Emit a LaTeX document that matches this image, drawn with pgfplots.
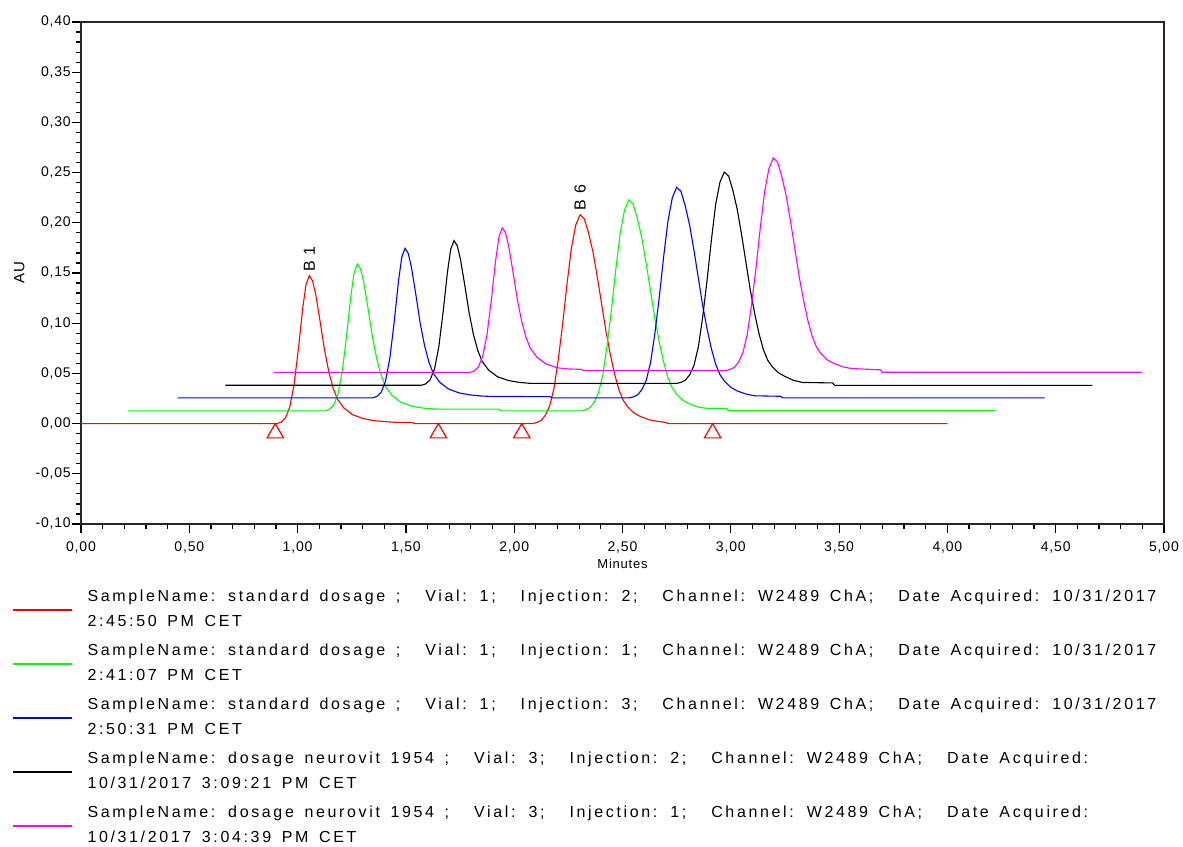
\documentclass[border=0pt]{standalone}
\usepackage{fontspec}
\setmainfont{Liberation Sans}
\newfontfamily\tickfam[LetterSpace=6]{Liberation Sans}
\newfontfamily\legfam[LetterSpace=16.5,WordSpace=1.5]{Liberation Sans}
\newfontfamily\annfam[LetterSpace=10]{Liberation Sans}
\usepackage{pgfplots}
\pgfplotsset{compat=1.18}
\newcommand{\legfont}{\legfam\fontsize{16}{25}\selectfont}
\newcommand{\tickfont}{\tickfam\fontsize{14}{16}\selectfont}
\newcommand{\gap}{\hspace*{25pt}}
\newcommand{\ts}{\rule{0pt}{14pt}}
\newcommand{\bs}{\rule[-3.5pt]{0pt}{3.5pt}}
\definecolor{cgreen}{RGB}{0,255,0}
\definecolor{cmag}{RGB}{255,0,255}
\begin{document}
\begin{tikzpicture}
\useasboundingbox (0,0) rectangle (1183pt,846pt);
\begin{axis}[
  at={(81pt,322pt)}, anchor=south west,
  width=1083pt, height=502pt, scale only axis,
  xmin=0, xmax=5, ymin=-0.1, ymax=0.4,
  xtick={0,0.5,1,1.5,2,2.5,3,3.5,4,4.5,5},
  ytick={-0.1,-0.05,0,0.05,0.1,0.15,0.2,0.25,0.3,0.35,0.4},
  minor x tick num=4, minor y tick num=4,
  xtick pos=bottom, ytick pos=left, tick align=outside,
  major tick length=9pt, minor tick length=5pt,
  tick style={black, line width=1.2pt},
  axis line style={black!85, line width=1.5pt},
  /pgf/number format/assume math mode=true,
  /pgf/number format/use comma,
  /pgf/number format/fixed,
  /pgf/number format/fixed zerofill,
  /pgf/number format/precision=2,
  ticklabel style={font=\tickfont},
  yticklabel style={inner sep=1pt},
  xticklabel style={inner sep=2pt, yshift=-7pt},
  xlabel={Minutes},
  xlabel style={at={(axis description cs:0.5,-0.070)}, anchor=north, inner sep=0pt, font=\tickfam\fontsize{13}{15}\selectfont},
  ylabel={AU},
  ylabel style={at={(axis description cs:-0.057,0.5)}, anchor=center, inner sep=0pt, font=\tickfam\fontsize{15}{17}\selectfont},
  legend image code/.code={\draw[#1, line width=1.5pt] (0pt,-2.5pt) -- (59pt,-2.5pt);},
  legend style={at={(-0.0637,-0.126)}, anchor=north west, draw=none, fill=none,
    inner sep=0pt, outer sep=0pt, row sep=13.5pt, column sep=15pt,
    font=\legfont, nodes={inner sep=0pt}, cells={anchor=west, align=left}},
]
\addplot[red, line width=1.1pt] coordinates {
(0,0) (0.904,0) (0.924,0.0015) (0.944,0.0056) (0.964,0.0165) (0.984,0.0392) (1.004,0.0750) (1.024,0.1156) (1.039,0.1386) (1.054,0.1474) (1.069,0.1422) (1.084,0.1282) (1.104,0.1017) (1.124,0.0737) (1.144,0.0516) (1.164,0.0354) (1.184,0.0243) (1.214,0.0155) (1.254,0.0088) (1.304,0.0049) (1.354,0.0029) (1.404,0.0019) (1.45,0.0013) (1.53,0.0010) (1.54,0) (2.084,0) (2.104,0.0010) (2.124,0.0031) (2.144,0.0083) (2.164,0.0177) (2.184,0.0354) (2.204,0.0645) (2.224,0.0998) (2.244,0.1394) (2.264,0.1747) (2.284,0.1976) (2.304,0.2080) (2.324,0.2038) (2.344,0.1893) (2.364,0.1706) (2.384,0.1456) (2.404,0.1186) (2.424,0.0915) (2.444,0.0686) (2.464,0.0489) (2.484,0.0333) (2.504,0.0229) (2.524,0.0166) (2.554,0.0104) (2.584,0.0069) (2.624,0.0037) (2.664,0.0021) (2.70,0.0012) (2.71,0) (4.0,0)};
\addlegendentry{\ts SampleName: standard dosage ;\gap Vial: 1;\gap Injection: 2;\gap Channel: W2489 ChA;\gap Date Acquired: 10/31/2017\\2:45:50 PM CET\bs}
\addplot[cgreen, line width=1.1pt] coordinates {
(0.217,0.0126) (1.126,0.0126) (1.146,0.0141) (1.166,0.0182) (1.186,0.0290) (1.206,0.0515) (1.226,0.0871) (1.246,0.1274) (1.261,0.1502) (1.276,0.1590) (1.291,0.1539) (1.306,0.1400) (1.326,0.1136) (1.346,0.0858) (1.366,0.0638) (1.386,0.0477) (1.406,0.0368) (1.436,0.0280) (1.476,0.0214) (1.526,0.0174) (1.576,0.0155) (1.626,0.0145) (1.93,0.0144) (1.94,0.0126) (2.309,0.0126) (2.329,0.0137) (2.349,0.0158) (2.369,0.0210) (2.389,0.0305) (2.409,0.0483) (2.429,0.0778) (2.449,0.1135) (2.469,0.1534) (2.489,0.1892) (2.509,0.2123) (2.529,0.2228) (2.549,0.2186) (2.569,0.2039) (2.589,0.1850) (2.609,0.1597) (2.629,0.1324) (2.649,0.1051) (2.669,0.0820) (2.689,0.0620) (2.709,0.0462) (2.729,0.0357) (2.749,0.0294) (2.779,0.0231) (2.809,0.0195) (2.849,0.0164) (2.889,0.0152) (2.98,0.0152) (2.99,0.0128) (4.22,0.0128)};
\addlegendentry{\ts SampleName: standard dosage ;\gap Vial: 1;\gap Injection: 1;\gap Channel: W2489 ChA;\gap Date Acquired: 10/31/2017\\2:41:07 PM CET\bs}
\addplot[blue, line width=1.1pt] coordinates {
(0.446,0.0256) (1.346,0.0256) (1.366,0.0271) (1.386,0.0313) (1.406,0.0423) (1.426,0.0652) (1.446,0.1014) (1.466,0.1424) (1.481,0.1657) (1.496,0.1746) (1.511,0.1694) (1.526,0.1552) (1.546,0.1284) (1.566,0.1001) (1.586,0.0778) (1.606,0.0614) (1.626,0.0502) (1.656,0.0412) (1.696,0.0345) (1.746,0.0305) (1.796,0.0286) (1.846,0.0275) (1.896,0.0270) (2.165,0.0269) (2.175,0.0256) (2.53,0.0256) (2.55,0.0266) (2.57,0.0287) (2.59,0.0340) (2.61,0.0434) (2.63,0.0613) (2.65,0.0906) (2.67,0.1263) (2.69,0.1662) (2.71,0.2018) (2.73,0.2249) (2.75,0.2354) (2.77,0.2312) (2.79,0.2165) (2.81,0.1976) (2.83,0.1725) (2.85,0.1452) (2.87,0.1179) (2.89,0.0948) (2.91,0.0749) (2.93,0.0592) (2.95,0.0487) (2.97,0.0424) (3.00,0.0361) (3.03,0.0325) (3.07,0.0294) (3.11,0.0277) (3.23,0.0272) (3.24,0.0256) (4.449,0.0256)};
\addlegendentry{\ts SampleName: standard dosage ;\gap Vial: 1;\gap Injection: 3;\gap Channel: W2489 ChA;\gap Date Acquired: 10/31/2017\\2:50:31 PM CET\bs}
\addplot[black, line width=1.1pt] coordinates {
(0.666,0.0382) (1.572,0.0382) (1.592,0.0396) (1.612,0.0437) (1.632,0.0543) (1.652,0.0765) (1.672,0.1115) (1.692,0.1512) (1.707,0.1737) (1.722,0.1823) (1.737,0.1773) (1.752,0.1636) (1.772,0.1376) (1.792,0.1103) (1.812,0.0886) (1.832,0.0728) (1.852,0.0620) (1.882,0.0533) (1.922,0.0468) (1.972,0.0430) (2.022,0.0411) (2.072,0.0401) (2.75,0.0400) (2.77,0.0411) (2.79,0.0432) (2.81,0.0485) (2.83,0.0580) (2.85,0.0761) (2.87,0.1058) (2.89,0.1418) (2.91,0.1821) (2.93,0.2182) (2.95,0.2405) (2.97,0.2505) (2.99,0.2465) (3.01,0.2320) (3.03,0.2130) (3.05,0.1880) (3.07,0.1605) (3.09,0.1330) (3.11,0.1100) (3.13,0.0898) (3.15,0.0739) (3.17,0.0633) (3.19,0.0570) (3.22,0.0506) (3.25,0.0470) (3.29,0.0430) (3.33,0.0410) (3.47,0.0405) (3.48,0.0380) (4.669,0.0380)};
\addlegendentry{\ts SampleName: dosage neurovit 1954 ;\gap Vial: 3;\gap Injection: 2;\gap Channel: W2489 ChA;\gap Date Acquired:\\10/31/2017 3:09:21 PM CET\bs}
\addplot[cmag, line width=1.1pt] coordinates {
(0.891,0.0510) (1.795,0.0510) (1.815,0.0524) (1.835,0.0565) (1.855,0.0671) (1.875,0.0893) (1.895,0.1242) (1.915,0.1638) (1.930,0.1863) (1.945,0.1949) (1.960,0.1899) (1.975,0.1762) (1.995,0.1503) (2.015,0.1230) (2.035,0.1014) (2.055,0.0855) (2.075,0.0747) (2.105,0.0661) (2.145,0.0596) (2.195,0.0557) (2.245,0.0545) (2.31,0.0540) (2.32,0.0528) (2.976,0.0528) (2.996,0.0539) (3.016,0.0560) (3.036,0.0613) (3.056,0.0708) (3.076,0.0888) (3.096,0.1185) (3.116,0.1545) (3.136,0.1947) (3.156,0.2307) (3.176,0.2540) (3.196,0.2646) (3.216,0.2604) (3.236,0.2455) (3.256,0.2265) (3.276,0.2011) (3.296,0.1735) (3.316,0.1460) (3.336,0.1227) (3.356,0.1026) (3.376,0.0867) (3.396,0.0761) (3.416,0.0697) (3.446,0.0634) (3.476,0.0598) (3.516,0.0566) (3.556,0.0549) (3.69,0.0535) (3.70,0.0511) (4.897,0.0511)};
\addlegendentry{\ts SampleName: dosage neurovit 1954 ;\gap Vial: 3;\gap Injection: 1;\gap Channel: W2489 ChA;\gap Date Acquired:\\10/31/2017 3:04:39 PM CET\bs}
\addplot[red, only marks, mark=triangle, mark size=9.5pt, mark options={line width=1.2pt}, forget plot] coordinates {
(0.897,-0.0095) (1.650,-0.0095) (2.035,-0.0095) (2.916,-0.0095)};
\node[rotate=90, anchor=west, inner sep=0pt, font=\annfam\fontsize{16}{18}\selectfont] at (axis cs:1.054,0.151) {B 1};
\node[rotate=90, anchor=west, inner sep=0pt, font=\annfam\fontsize{16}{18}\selectfont] at (axis cs:2.304,0.212) {B 6};
\end{axis}
\end{tikzpicture}
\end{document}
